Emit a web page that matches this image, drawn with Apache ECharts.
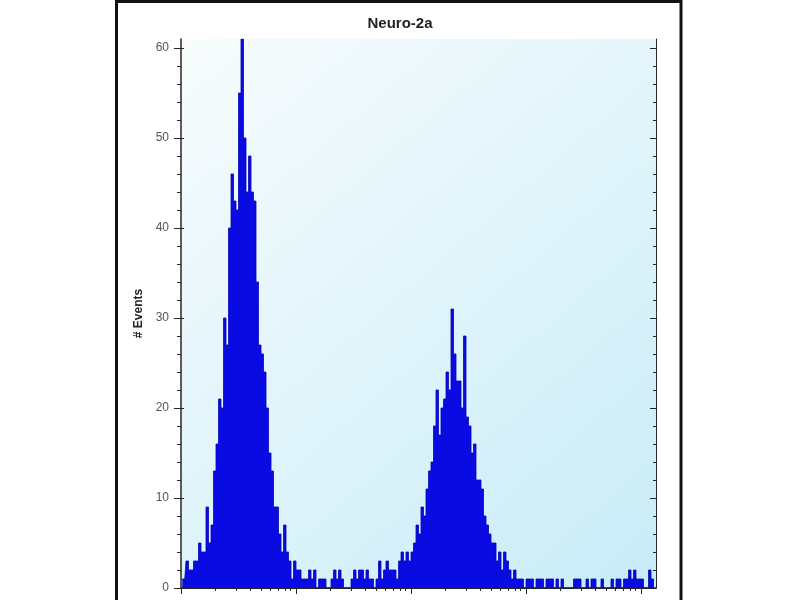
<!DOCTYPE html>
<html>
<head>
<meta charset="utf-8">
<title>Neuro-2a</title>
<script src="https://cdn.jsdelivr.net/npm/echarts@6/dist/echarts.min.js"></script>
<style>
  html, body { margin: 0; padding: 0; background: #fff; }
  #chart { width: 800px; height: 600px; }
</style>
</head>
<body>
<div id="chart"></div>
<script>
// events per channel from left to right
const counts = [
  1, 1, 3, 2, 2, 3, 3, 5, 4, 4,
  9, 5, 7, 13, 16, 21, 20, 30, 27, 40,
  46, 43, 42, 55, 61, 50, 44, 48, 44, 43,
  34, 27, 26, 24, 20, 15, 13, 9, 9, 6,
  4, 7, 4, 3, 1, 3, 2, 2, 1, 1,
  1, 2, 1, 2, 0, 1, 1, 1, 0, 0,
  1, 2, 1, 2, 1, 0, 0, 0, 1, 2,
  1, 2, 2, 1, 2, 1, 1, 0, 1, 3,
  1, 2, 3, 2, 2, 2, 1, 3, 4, 3,
  4, 3, 4, 5, 7, 6, 9, 8, 11, 13,
  14, 18, 22, 17, 20, 21, 24, 22, 31, 26,
  23, 23, 20, 28, 19, 18, 15, 16, 12, 12,
  11, 8, 7, 6, 5, 5, 3, 4, 2, 4,
  3, 2, 1, 2, 1, 1, 1, 0, 1, 1,
  1, 0, 1, 1, 1, 0, 1, 1, 1, 0,
  1, 0, 1, 0, 0, 0, 0, 1, 1, 1,
  0, 0, 1, 0, 1, 1, 0, 0, 1, 0,
  0, 0, 1, 0, 1, 1, 0, 1, 1, 2,
  1, 2, 1, 1, 1, 0, 0, 2, 1, 0
]
const channels = counts.map((c, i) => i)

const yRange = [0, 61]
const yMajorTicks = [0, 10, 20, 30, 40, 50, 60]
const yMinorTicks = [2, 4, 6, 8, 12, 14, 16, 18, 22, 24, 26, 28, 32, 34, 36, 38,
  42, 44, 46, 48, 52, 54, 56, 58]

// fluorescence axis, log scale (labels fall below the picture)
const xRange = [1, 13500]
const xDecadeTicks = [1, 10, 100, 1000, 10000]
const xMinorTicks = [2, 3, 4, 5, 6, 7, 8, 9,
  20, 30, 40, 50, 60, 70, 80, 90,
  200, 300, 400, 500, 600, 700, 800, 900,
  2000, 3000, 4000, 5000, 6000, 7000, 8000, 9000]

const AXIS_COLOR = '#262626'
const BAR_COLOR = '#0a0ae2'
const FONT = '"Liberation Sans", Arial, sans-serif'

function tickAxis(type, position, values, len, inside, range) {
  const ax = {
    type: type,
    position: position,
    min: range[0],
    max: range[1],
    axisLine: { show: false },
    axisTick: {
      show: true, customValues: values, length: len, inside: inside,
      lineStyle: { color: AXIS_COLOR, width: 1 },
    },
    axisLabel: { show: false },
    splitLine: { show: false },
  }
  if (type === 'log') ax.logBase = 10
  return ax
}

const chart = echarts.init(document.getElementById('chart'))

const leftAxis = tickAxis('value', 'left', yMajorTicks, 7, false, yRange)
leftAxis.axisLine = { show: true, lineStyle: { color: AXIS_COLOR, width: 1.5 } }
leftAxis.axisLabel = {
  show: true, customValues: yMajorTicks, margin: 12,
  color: '#555', fontSize: 12, fontFamily: FONT,
}
leftAxis.name = '# Events'
leftAxis.nameLocation = 'middle'
leftAxis.nameGap = 36
leftAxis.nameRotate = 90
leftAxis.nameTextStyle = { fontSize: 12, fontWeight: 'bold', color: '#222', fontFamily: FONT }

const rightAxis = tickAxis('value', 'right', yMajorTicks, 6, true, yRange)
rightAxis.axisLine = { show: true, lineStyle: { color: AXIS_COLOR, width: 1 } }

const topAxis = tickAxis('log', 'top', xDecadeTicks, 6, true, xRange)
topAxis.axisLine = { show: true, lineStyle: { color: AXIS_COLOR, width: 1 } }

const bottomAxis = tickAxis('log', 'bottom', xDecadeTicks, 6, false, xRange)
bottomAxis.axisLine = { show: true, lineStyle: { color: AXIS_COLOR, width: 1.5 } }

chart.setOption({
  backgroundColor: '#fff',
  animation: false,
  title: {
    text: 'Neuro-2a',
    left: 'center',
    top: 11,
    textStyle: { fontSize: 15, fontWeight: 'bold', color: '#222', fontFamily: FONT },
  },
  grid: {
    left: 181, top: 39, width: 475, height: 549,
    show: true,
    borderWidth: 0,
    backgroundColor: new echarts.graphic.LinearGradient(0, 0, 1, 1, [
      { offset: 0, color: '#f8fcfd' },
      { offset: 1, color: '#c8ecf8' },
    ]),
  },
  xAxis: [
    { type: 'category', data: channels, show: false, boundaryGap: true },
    bottomAxis,
    tickAxis('log', 'bottom', xMinorTicks, 3, false, xRange),
    topAxis,
    tickAxis('log', 'top', xMinorTicks, 3, true, xRange),
  ],
  yAxis: [
    leftAxis,
    tickAxis('value', 'left', yMinorTicks, 4, false, yRange),
    tickAxis('value', 'left', yMajorTicks, 3, true, yRange),
    rightAxis,
    tickAxis('value', 'right', yMinorTicks, 3, true, yRange),
  ],
  series: [{
    // histogram drawn as a filled step outline so adjacent channels join up
    type: 'line',
    data: counts,
    xAxisIndex: 0,
    yAxisIndex: 0,
    step: 'middle',
    symbol: 'none',
    lineStyle: { color: '#0606b8', width: 0.8 },
    areaStyle: { color: BAR_COLOR, opacity: 1 },
    silent: true,
  }],
  graphic: [{
    type: 'rect',
    silent: true,
    z: 100,
    shape: { x: 116.5, y: 1.5, width: 564.5, height: 640 },
    style: { fill: null, stroke: '#111', lineWidth: 3 },
  }],
})
</script>
</body>
</html>
